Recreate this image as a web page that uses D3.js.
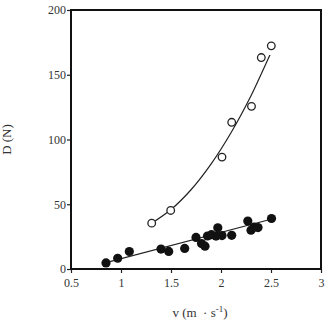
<!DOCTYPE html>
<html>
<head>
<meta charset="utf-8">
<script src="https://cdn.jsdelivr.net/npm/d3@7"></script>
<style>
  body { margin: 0; background: #fff; }
  svg { display: block; font-family: "Liberation Serif", "DejaVu Serif", serif; }
</style>
</head>
<body>
<div id="chart"></div>
<script>
// filled circles
var filledV = [0.85, 0.967, 1.083, 1.40, 1.477, 1.637, 1.75, 1.805, 1.84, 1.865, 1.905, 1.95, 1.968, 2.01, 2.107, 2.268, 2.30, 2.33, 2.37, 2.505];
var filledD = [4.7, 8.3, 13.5, 15.4, 13.6, 15.9, 24.4, 19.6, 17.6, 25.5, 26.5, 25.4, 31.8, 25.8, 26.0, 37.0, 30.0, 32.3, 32.0, 39.0];

// open circles
var openV = [1.307, 1.497, 2.01, 2.107, 2.305, 2.403, 2.503];
var openD = [35.4, 45.2, 86.4, 113.3, 125.6, 163.3, 172.3];

// fitted lines
var lineV = [0.85, 2.5];
var lineD = [4.9, 38.4];
var curveV = [1.31, 1.5, 1.7, 1.9, 2.1, 2.3, 2.49];
var curveD = [35.5, 45.9, 61.2, 81.0, 105.2, 133.8, 165.5];

var xTicks = [0.5, 1, 1.5, 2, 2.5, 3];
var yTicks = [0, 50, 100, 150, 200];

const margin = { top: 10, right: 7, bottom: 53, left: 71 },
    W = 328, H = 322,
    width = W - margin.left - margin.right,
    height = H - margin.top - margin.bottom;

const svg = d3.select("#chart").append("svg")
    .attr("width", W)
    .attr("height", H)
    .append("g")
    .attr("transform", "translate(" + margin.left + "," + margin.top + ")");

const x = d3.scaleLinear().domain([0.5, 3]).range([0, width]);
const y = d3.scaleLinear().domain([0, 200]).range([height, 0]);

// axes
const xAxis = svg.append("g")
    .attr("transform", "translate(0," + height + ")")
    .call(d3.axisBottom(x).tickValues(xTicks).tickSize(4).tickSizeOuter(0).tickFormat(d3.format("")));
const yAxis = svg.append("g")
    .call(d3.axisLeft(y).tickValues(yTicks).tickSize(4).tickSizeOuter(0));

[xAxis, yAxis].forEach(function (a) {
    a.select(".domain").remove();
    a.selectAll(".tick line").attr("stroke", "#222").attr("stroke-width", 1.2);
    a.selectAll(".tick text")
        .attr("fill", "#333")
        .style("font-family", "'Liberation Serif', serif")
        .style("font-size", "12px");
});
xAxis.selectAll(".tick text").attr("dy", "0.9em");
yAxis.selectAll(".tick text").attr("x", -5);

// frame
svg.append("rect")
    .attr("x", 0).attr("y", 0)
    .attr("width", width).attr("height", height)
    .attr("fill", "none")
    .attr("stroke", "#111")
    .attr("stroke-width", 2);

// fitted line and curve
const lineGen = d3.line().x(d => x(d[0])).y(d => y(d[1]));
svg.append("path")
    .datum(d3.zip(lineV, lineD))
    .attr("d", lineGen)
    .attr("fill", "none")
    .attr("stroke", "#222")
    .attr("stroke-width", 1.2);

svg.append("path")
    .datum(d3.zip(curveV, curveD))
    .attr("d", lineGen.curve(d3.curveCatmullRom))
    .attr("fill", "none")
    .attr("stroke", "#222")
    .attr("stroke-width", 1.2);

// points
svg.selectAll("circle.filled")
    .data(d3.zip(filledV, filledD))
    .enter()
    .append("circle")
    .attr("class", "filled")
    .attr("cx", d => x(d[0]))
    .attr("cy", d => y(d[1]))
    .attr("r", 4.6)
    .attr("fill", "#111");

svg.selectAll("circle.open")
    .data(d3.zip(openV, openD))
    .enter()
    .append("circle")
    .attr("class", "open")
    .attr("cx", d => x(d[0]))
    .attr("cy", d => y(d[1]))
    .attr("r", 3.8)
    .attr("fill", "#fff")
    .attr("stroke", "#222")
    .attr("stroke-width", 1.3);

// axis titles
svg.append("text")
    .attr("transform", "translate(" + (-60) + "," + (height / 2) + ") rotate(-90)")
    .attr("text-anchor", "middle")
    .attr("fill", "#333")
    .style("font-size", "13px")
    .text("D (N)");

const xt = svg.append("text")
    .attr("x", 129)
    .attr("y", height + 48)
    .attr("text-anchor", "middle")
    .attr("fill", "#333")
    .style("font-size", "13px");
xt.append("tspan").text("v (m \u00a0\u00b7 s");
xt.append("tspan").attr("dy", -5).style("font-size", "9px").text("-1");
xt.append("tspan").attr("dy", 5).text(")");
</script>
</body>
</html>
